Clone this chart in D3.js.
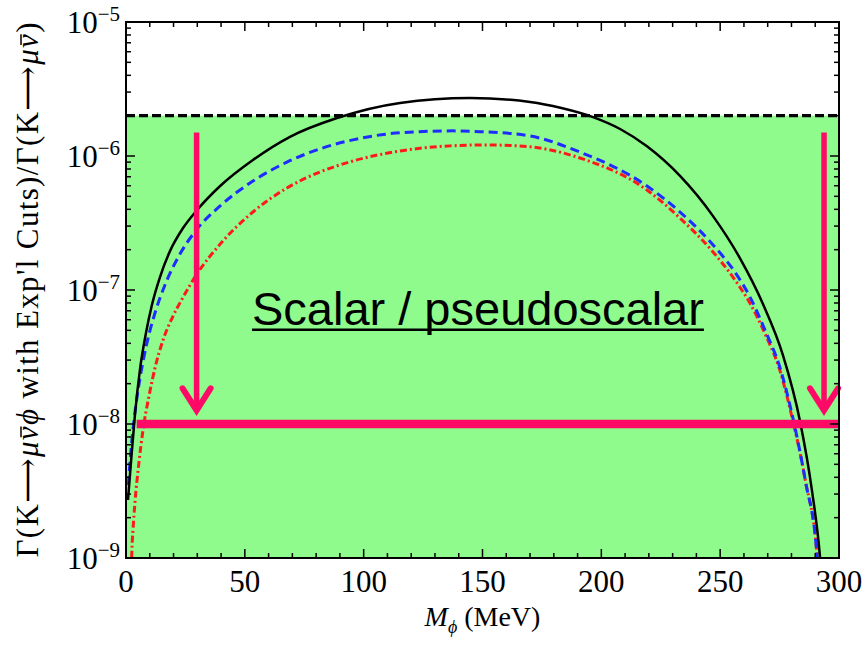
<!DOCTYPE html>
<html>
<head>
<meta charset="utf-8">
<script src="https://cdn.jsdelivr.net/npm/d3@7"></script>
<style>
  body { margin: 0; background: #fff; }
  svg { display: block; }
  .tick-label { font-family: "Liberation Serif", "DejaVu Serif", serif; fill: #000; }
</style>
</head>
<body>
<script>
// chart values
const massBlack = [0.84, 2.1, 3.8, 5.9, 8.4, 10.9, 14.3, 18.5, 24.0, 29.9, 39.6, 53.4, 69.0, 88.8, 115.3, 144.7, 170, 183.2, 196.5, 207.9, 219.2, 233.1, 247, 258.3, 268, 276.4, 283.6, 288.6, 292, 293];
const rateBlack = [2.71e-9, 5.2e-9, 1.19e-8, 2.57e-8, 4.77e-8, 7.73e-8, 1.25e-7, 1.95e-7, 2.9e-7, 3.95e-7, 5.97e-7, 9.33e-7, 1.39e-6, 1.92e-6, 2.49e-6, 2.71e-6, 2.53e-6, 2.28e-6, 1.95e-6, 1.59e-6, 1.18e-6, 7.1e-7, 3.56e-7, 1.73e-7, 7.87e-8, 3.27e-8, 1.05e-8, 3.21e-9, 1.02e-9, 6e-10];

const massBlue = [0.97, 2.1, 3.37, 5.9, 8.8, 12.2, 16.4, 21.9, 29.9, 39.6, 53.4, 67.7, 81.6, 95.5, 115.3, 137.6, 149, 170, 191, 219.2, 233.1, 247, 256.2, 262.5, 268.9, 275.2, 280.3, 285.8, 290.8, 291.7];
const rateBlue = [3.5e-9, 6.4e-9, 1.07e-8, 2.2e-8, 4.02e-8, 6.73e-8, 1.09e-7, 1.75e-7, 2.85e-7, 4.24e-7, 6.5e-7, 9.0e-7, 1.13e-6, 1.32e-6, 1.49e-6, 1.54e-6, 1.52e-6, 1.41e-6, 1.07e-6, 5.97e-7, 3.82e-7, 2.17e-7, 1.36e-7, 8.9e-8, 5.0e-8, 2.62e-8, 1.17e-8, 3.8e-9, 1.02e-9, 6e-10];

const massRed = [2.2, 2.4, 2.95, 3.79, 5.47, 7.15, 9.68, 12.2, 15.6, 19.4, 23.6, 29.9, 39.6, 53.4, 67.7, 81.6, 95.5, 115.3, 136.3, 151.9, 170, 191, 219.2, 233.1, 247, 256.2, 262.5, 268.9, 275.2, 280.3, 285.8, 290.8, 291.7];
const rateRed = [6e-10, 1.02e-9, 1.62e-9, 2.62e-9, 5.2e-9, 9.0e-9, 1.62e-8, 2.62e-8, 4.24e-8, 6.18e-8, 8.57e-8, 1.32e-7, 2.2e-7, 3.82e-7, 5.77e-7, 7.6e-7, 9.18e-7, 1.09e-6, 1.19e-6, 1.21e-6, 1.17e-6, 9.66e-7, 5.57e-7, 3.44e-7, 1.92e-7, 1.19e-7, 8.0e-8, 4.7e-8, 2.49e-8, 1.11e-8, 3.82e-9, 1.02e-9, 6e-10];

const limitRate = 2e-6;        // dashed line, green region below it
const targetRate = 1e-8;       // pink bar
const targetMass = [4.5, 300];
const arrowMass = [29.7, 293.7];
const arrowRate = [1.5e-6, 1.2e-8];

const xTicks = [0, 50, 100, 150, 200, 250, 300];
const yExponents = [-9, -8, -7, -6, -5];

const width = 867, height = 654;
const margin = {left: 126, top: 22, right: 28, bottom: 96};
const pink = "#fe0a66";

const svg = d3.select("body").append("svg")
    .attr("width", width)
    .attr("height", height);

const x = d3.scaleLinear().domain([0, 300]).range([margin.left, width - margin.right]);
const y = d3.scaleLog().domain([1e-9, 1e-5]).range([height - margin.bottom, margin.top]);

svg.append("clipPath").attr("id", "plot-clip")
  .append("rect")
    .attr("x", x(0)).attr("y", y(1e-5))
    .attr("width", x(300) - x(0)).attr("height", y(1e-9) - y(1e-5));

const plot = svg.append("g").attr("clip-path", "url(#plot-clip)");

// green allowed region
plot.append("rect")
    .attr("x", x(0)).attr("y", y(limitRate))
    .attr("width", x(300) - x(0))
    .attr("height", y(1e-9) - y(limitRate))
    .attr("fill", "#8ffb8c");

const line = d3.line()
    .x(d => x(d[0]))
    .y(d => y(d[1]))
    .curve(d3.curveMonotoneX);

const curves = [
  {m: massBlack, r: rateBlack, color: "#000", dash: null, w: 2.5},
  {m: massBlue, r: rateBlue, color: "#1f2cff", dash: "9,5", w: 3},
  {m: massRed, r: rateRed, color: "#ff1a1a", dash: "7,3,2,3", w: 3}
];

// red under blue under black
curves.slice().reverse().forEach(c => {
  plot.append("path")
      .datum(d3.zip(c.m, c.r))
      .attr("fill", "none")
      .attr("stroke", c.color)
      .attr("stroke-width", c.w)
      .attr("stroke-dasharray", c.dash)
      .attr("d", line);
});

// dashed limit line
plot.append("line")
    .attr("x1", x(0)).attr("x2", x(300))
    .attr("y1", y(limitRate)).attr("y2", y(limitRate))
    .attr("stroke", "#000")
    .attr("stroke-width", 3.2)
    .attr("stroke-dasharray", "9,4");

// pink annotations
plot.append("line")
    .attr("x1", x(targetMass[0])).attr("x2", x(targetMass[1]))
    .attr("y1", y(targetRate)).attr("y2", y(targetRate))
    .attr("stroke", pink)
    .attr("stroke-width", 8.5);

arrowMass.forEach(m => {
  let tipY = y(arrowRate[1]);
  svg.append("line")
      .attr("x1", x(m)).attr("x2", x(m))
      .attr("y1", y(arrowRate[0])).attr("y2", tipY - 3)
      .attr("stroke", pink)
      .attr("stroke-width", 5.5);
  svg.append("path")
      .attr("d", `M${x(m) - 14},${tipY - 25}L${x(m)},${tipY - 3}L${x(m) + 14},${tipY - 25}`)
      .attr("fill", "none")
      .attr("stroke", pink)
      .attr("stroke-width", 6)
      .attr("stroke-linecap", "round")
      .attr("stroke-linejoin", "miter");
});

const label = svg.append("text")
    .attr("x", x(53))
    .attr("y", y(5.5e-8))
    .attr("font-family", "'Liberation Sans', Arial, sans-serif")
    .attr("font-size", 47)
    .attr("fill", "#000")
    .text("Scalar / pseudoscalar");
const labelLen = label.node().getComputedTextLength();
svg.append("line")
    .attr("x1", x(53)).attr("x2", x(53) + labelLen)
    .attr("y1", y(5.5e-8) + 5).attr("y2", y(5.5e-8) + 5)
    .attr("stroke", "#000")
    .attr("stroke-width", 2.5);

// frame and ticks (inward, all four sides)
const frame = svg.append("g");
frame.append("rect")
    .attr("x", x(0)).attr("y", y(1e-5))
    .attr("width", x(300) - x(0)).attr("height", y(1e-9) - y(1e-5))
    .attr("fill", "none")
    .attr("stroke", "#000")
    .attr("stroke-width", 2);

const xMinor = d3.range(0, 301, 10);
xMinor.forEach(v => {
  let len = v % 50 === 0 ? 9 : 5;
  frame.append("line")
      .attr("x1", x(v)).attr("x2", x(v))
      .attr("y1", y(1e-9)).attr("y2", y(1e-9) - len)
      .attr("stroke", "#000").attr("stroke-width", 1.5);
  frame.append("line")
      .attr("x1", x(v)).attr("x2", x(v))
      .attr("y1", y(1e-5)).attr("y2", y(1e-5) + len)
      .attr("stroke", "#000").attr("stroke-width", 1.5);
});

yExponents.forEach(e => {
  d3.range(1, 10).forEach(k => {
    if (e === -5 && k > 1) return;
    let v = k * Math.pow(10, e);
    let len = k === 1 ? 9 : 5;
    frame.append("line")
        .attr("x1", x(0)).attr("x2", x(0) + len)
        .attr("y1", y(v)).attr("y2", y(v))
        .attr("stroke", "#000").attr("stroke-width", 1.5);
    frame.append("line")
        .attr("x1", x(300)).attr("x2", x(300) - len)
        .attr("y1", y(v)).attr("y2", y(v))
        .attr("stroke", "#000").attr("stroke-width", 1.5);
  });
});

// tick labels
svg.selectAll(".xlab")
  .data(xTicks)
  .enter().append("text")
    .attr("class", "tick-label")
    .attr("x", d => x(d))
    .attr("y", y(1e-9) + 34)
    .attr("text-anchor", "middle")
    .attr("font-size", 31)
    .text(d => d);

const ylab = svg.selectAll(".ylab")
  .data(yExponents)
  .enter().append("text")
    .attr("class", "tick-label")
    .attr("x", x(0) - 6)
    .attr("y", d => y(Math.pow(10, d)) + 11)
    .attr("text-anchor", "end")
    .attr("font-size", 31);
ylab.append("tspan").text("10");
ylab.append("tspan")
    .attr("font-size", 21)
    .attr("dy", -12)
    .text(d => "\u2212" + Math.abs(d));

// axis titles
const xTitle = svg.append("text")
    .attr("class", "tick-label")
    .attr("x", (x(0) + x(300)) / 2)
    .attr("y", height - 28)
    .attr("text-anchor", "middle")
    .attr("font-size", 28);
xTitle.append("tspan").attr("font-style", "italic").text("M");
xTitle.append("tspan").attr("font-style", "italic").attr("font-size", 18).attr("dy", 7).text("\u03d5");
xTitle.append("tspan").attr("dy", -7).text(" (MeV)");

const yTitleG = svg.append("g")
    .attr("transform", `translate(38,${(y(1e-5) + y(1e-9)) / 2}) rotate(-90)`);
const yTitle = yTitleG.append("text")
    .attr("class", "tick-label")
    .attr("text-anchor", "middle")
    .attr("font-size", 31)
    .attr("textLength", 535)
    .attr("lengthAdjust", "spacing");
const titleParts = [
  ["\u0393(K\u27f6", false], ["\u03bc\u03bd\u03d5", true],
  [" with Exp'l Cuts)/\u0393(K\u27f6", false], ["\u03bc\u03bd", true], [")", false]
];
titleParts.forEach(p => {
  yTitle.append("tspan").attr("font-style", p[1] ? "italic" : null).text(p[0]);
});
// bar over each nu
const fullTitle = titleParts.map(p => p[0]).join("");
Array.from(fullTitle).forEach((ch, i) => {
  if (ch !== "\u03bd") return;
  let box = yTitle.node().getExtentOfChar(i);
  yTitleG.append("line")
      .attr("x1", box.x + 3).attr("x2", box.x + box.width)
      .attr("y1", -17).attr("y2", -17)
      .attr("stroke", "#000")
      .attr("stroke-width", 1.5);
});
</script>
</body>
</html>
